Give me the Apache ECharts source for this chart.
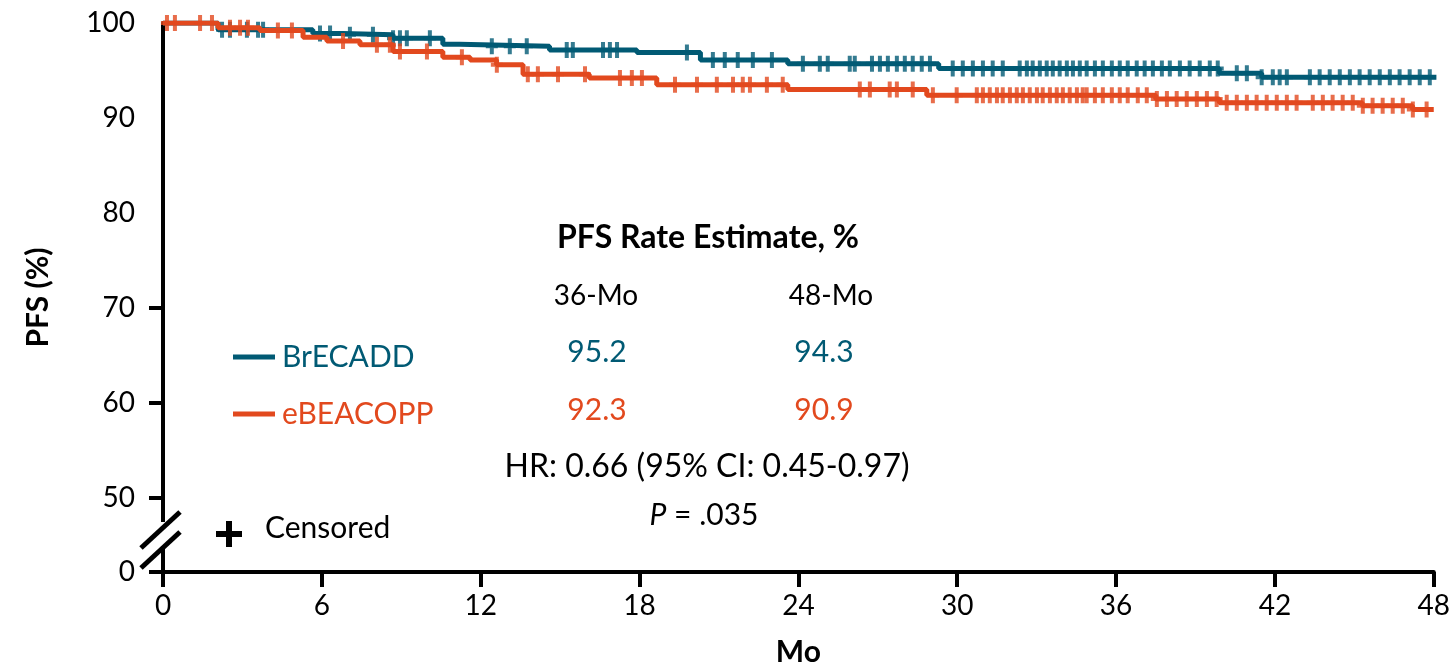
<!DOCTYPE html>
<html>
<head>
<meta charset="utf-8">
<script src="https://cdn.jsdelivr.net/npm/echarts@6/dist/echarts.min.js"></script>
<style>
  html, body { margin: 0; padding: 0; background: #fff; }
  #pfs { width: 1453px; height: 672px; }
</style>
</head>
<body>
<div id="pfs"></div>
<script>
var arms = ['BrECADD', 'eBEACOPP'];
var armColors = ['#015a74', '#e2491e'];

// KM steps: [month, PFS %] value holds from that month on
var brecaddSteps = [[0, 100], [2.08, 99.3], [5.66, 98.9], [6.8, 98.75], [8.69, 98.4], [10.57, 97.75],
  [11.2, 97.55], [14.6, 97.15], [17.9, 96.9], [20.3, 96.1], [23.6, 95.7], [29.3, 95.2],
  [39.9, 94.7], [41.5, 94.3], [48.1, 94.3]];
var ebeacoppSteps = [[0, 100], [2.08, 99.5], [3.66, 99.2], [5.29, 98.5], [6.19, 98.1], [7.44, 97.7],
  [8.69, 97.0], [10.57, 96.4], [11.6, 96.1], [12.6, 95.6], [13.6, 94.6], [16.1, 94.2],
  [18.65, 93.5], [23.6, 93.0], [28.85, 92.4], [37.5, 92.0], [39.9, 91.6], [45.3, 91.3],
  [47.2, 90.9], [48.0, 90.9]];

// censoring times (months)
var brecaddCensor = [2.23, 2.53, 3.17, 3.59, 3.78, 5.93, 6.31, 7.06, 7.93, 8.69, 8.95, 9.21, 10.08,
  12.42, 13.10, 13.74, 15.25, 15.48, 16.62, 16.88, 17.15, 19.79, 20.77, 21.22, 21.71, 22.28, 23.0,
  24.17, 24.81, 25.11, 25.94, 26.13, 26.78, 27.08, 27.38, 27.72, 28.02, 28.32, 28.66, 28.97,
  29.83, 30.21, 30.59, 30.97, 31.34, 31.72, 32.36, 32.63, 32.85, 33.12, 33.38, 33.61, 33.87,
  34.14, 34.37, 34.63, 34.89, 35.20, 35.50, 35.84, 36.14, 36.44, 36.78, 37.08, 37.39, 37.73,
  38.03, 38.41, 38.78, 39.16, 39.54, 39.84, 40.56, 40.94, 41.50, 41.92, 42.18, 42.45, 43.32,
  43.69, 44.07, 44.45, 44.83, 45.20, 45.58, 45.96, 46.34, 46.71, 47.09, 47.47, 47.85];
var ebeacoppCensor = [0.15, 0.45, 1.40, 1.85, 2.53, 2.91, 3.21, 4.34, 4.87, 6.80, 8.08, 8.57, 8.95,
  9.97, 11.29, 12.61, 13.78, 14.16, 14.92, 15.94, 17.26, 17.71, 18.09, 19.34, 20.17, 20.92,
  21.53, 21.90, 22.17, 22.81, 23.41, 26.32, 26.70, 27.45, 27.72, 28.32, 29.08, 29.98, 30.74,
  30.97, 31.23, 31.50, 31.72, 31.99, 32.25, 32.48, 32.74, 33.01, 33.23, 33.50, 33.76, 33.99,
  34.25, 34.52, 34.74, 34.89, 35.20, 35.50, 35.84, 36.14, 36.44, 36.82, 37.16, 37.54, 37.92,
  38.29, 38.67, 39.05, 39.43, 39.80, 40.18, 40.56, 40.94, 41.31, 41.69, 42.07, 42.45, 42.82,
  43.43, 43.81, 44.18, 44.56, 44.94, 45.32, 45.69, 46.07, 46.45, 46.83, 47.21, 47.73];

var rate36 = ['95.2', '92.3'];
var rate48 = ['94.3', '90.9'];
var xTicks = [0, 6, 12, 18, 24, 30, 36, 42, 48];
var yBreakValue = 42.2;   // the "0" at the foot of the broken axis
var yLabels = [yBreakValue, 50, 60, 70, 80, 90, 100];
var yTicks = [yBreakValue, 50, 60, 70];

var FONT = 'Lato, "Open Sans", sans-serif';

function stepValue(steps, t) {
  var v = steps[0][1];
  for (var i = 0; i < steps.length; i++) {
    if (steps[i][0] <= t) v = steps[i][1];
  }
  return v;
}
function censorPoints(steps, times) {
  return times.map(function (t) { return [t, stepValue(steps, t)]; });
}

var plus = 'path://M4,0h4v6h4v4h-4v6h-4v-6h-4v-4h4z';

function lineSeries(i, steps) {
  return {
    name: arms[i], type: 'line', step: 'end', data: steps,
    symbol: 'none', z: 2 + i * 2,
    lineStyle: { color: armColors[i], width: 5 },
    itemStyle: { color: armColors[i] }
  };
}
function censorSeries(i, steps, times) {
  return {
    name: arms[i] + ' censored', type: 'scatter', data: censorPoints(steps, times),
    symbol: plus, symbolSize: [12, 16], z: 3 + i * 2,
    itemStyle: { color: armColors[i] }
  };
}

function txt(x, y, s, opt) {
  opt = opt || {};
  return {
    type: 'text', x: x, y: y, z: 20,
    style: {
      text: s, fill: opt.color || '#000',
      font: (opt.style || 'normal') + ' ' + (opt.weight || 'normal') + ' ' + (opt.size || 28) + 'px ' + FONT,
      textAlign: opt.align || 'center', textVerticalAlign: 'middle',
      rich: opt.rich
    }
  };
}

var chart = echarts.init(document.getElementById('pfs'));
chart.setOption({
  animation: false,
  grid: { left: 163, right: 19, top: 23, bottom: 96, containLabel: false },
  xAxis: {
    type: 'value', min: 0, max: 48, interval: 6,
    name: 'Mo', nameLocation: 'middle', nameGap: 65,
    nameTextStyle: { fontFamily: FONT, fontSize: 30, fontWeight: 'bold', color: '#000' },
    axisLine: { lineStyle: { color: '#000', width: 4 } },
    axisTick: { length: 15, lineStyle: { color: '#000', width: 4 } },
    axisLabel: { fontFamily: FONT, fontSize: 28, color: '#000', margin: 20,
      customValues: xTicks },
    splitLine: { show: false }
  },
  yAxis: {
    type: 'value', min: yBreakValue, max: 100,
    name: 'PFS (%)', nameLocation: 'middle', nameGap: 110,
    nameTextStyle: { fontFamily: FONT, fontSize: 30, fontWeight: 'bold', color: '#000' },
    axisLine: { show: true, lineStyle: { color: '#000', width: 4 } },
    axisTick: { show: true, length: 14, lineStyle: { color: '#000', width: 4 }, customValues: yTicks },
    axisLabel: { fontFamily: FONT, fontSize: 28, color: '#000', margin: 28,
      customValues: yLabels,
      formatter: function (v) { return v < 45 ? '0' : String(v); } },
    splitLine: { show: false }
  },
  legend: {
    orient: 'vertical', left: 228, top: 337,
    icon: 'rect', itemWidth: 42, itemHeight: 5, itemGap: 27,
    textStyle: { fontFamily: FONT, fontSize: 30, lineHeight: 30, padding: [0, 0, 0, 2] },
    data: [
      { name: arms[0], textStyle: { color: armColors[0] } },
      { name: arms[1], textStyle: { color: armColors[1] } }
    ]
  },
  series: [
    lineSeries(0, brecaddSteps),
    censorSeries(0, brecaddSteps, brecaddCensor),
    lineSeries(1, ebeacoppSteps),
    censorSeries(1, ebeacoppSteps, ebeacoppCensor)
  ],
  graphic: [
    // axis break
    { type: 'rect', shape: { x: 154, y: 522, width: 18, height: 24 }, style: { fill: '#fff' }, z: 10 },
    { type: 'line', shape: { x1: 141, y1: 548, x2: 180, y2: 512 }, style: { stroke: '#000', lineWidth: 5 }, z: 11 },
    { type: 'line', shape: { x1: 141, y1: 568, x2: 180, y2: 532 }, style: { stroke: '#000', lineWidth: 5 }, z: 11 },
    // censored key
    { type: 'rect', shape: { x: 216, y: 531, width: 26, height: 6 }, style: { fill: '#000' }, z: 12 },
    { type: 'rect', shape: { x: 226, y: 521, width: 6, height: 26 }, style: { fill: '#000' }, z: 12 },
    txt(265, 528, 'Censored', { align: 'left', size: 30 }),
    // estimate table
    txt(708, 238, 'PFS Rate Estimate, %', { weight: 'bold', size: 32 }),
    txt(596, 296, '36-Mo'),
    txt(831, 296, '48-Mo'),
    txt(597, 352, rate36[0], { color: armColors[0], size: 30 }),
    txt(824, 352, rate48[0], { color: armColors[0], size: 30 }),
    txt(597, 410, rate36[1], { color: armColors[1], size: 30 }),
    txt(824, 410, rate48[1], { color: armColors[1], size: 30 }),
    txt(707, 467, 'HR: 0.66 (95% CI: 0.45-0.97)', { size: 32 }),
    txt(704, 515, '{i|P} = .035', { size: 30, rich: { i: { fontStyle: 'italic', fontFamily: FONT, fontSize: 30 } } })
  ]
});
</script>
</body>
</html>
